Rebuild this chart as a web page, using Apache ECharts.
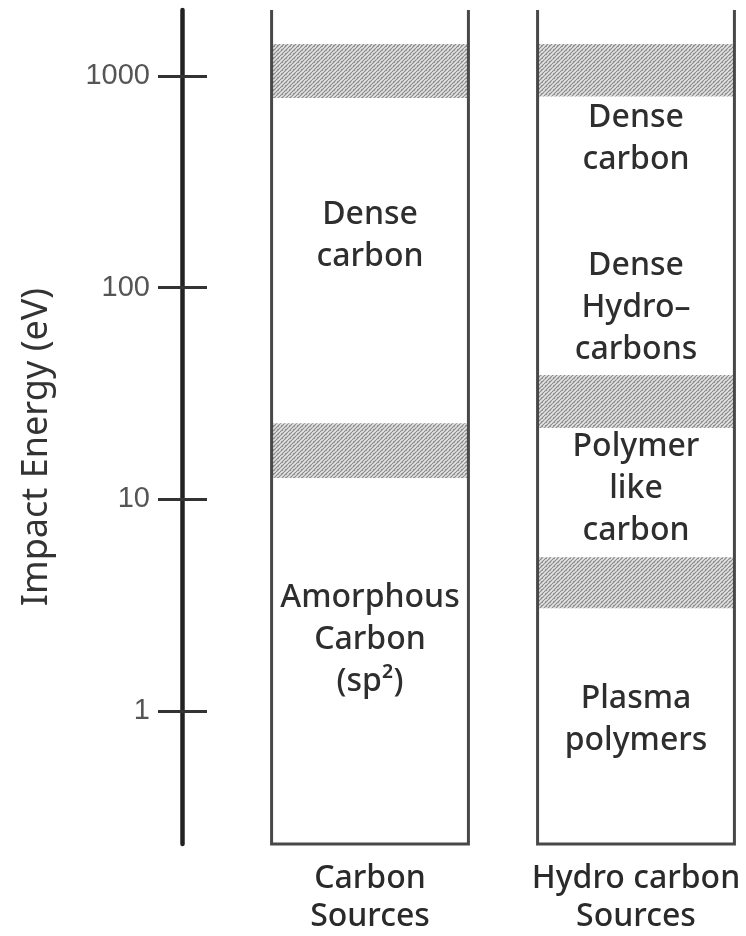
<!DOCTYPE html>
<html>
<head>
<meta charset="utf-8">
<script src="https://cdn.jsdelivr.net/npm/echarts@6/dist/echarts.min.js"></script>
<style>html,body{margin:0;padding:0;background:#fff;}#chart{width:746px;height:936px;}</style>
</head>
<body>
<div id="chart"></div>
<script>
// ---- data ----
const categories = ['Carbon\nSources', 'Hydro carbon\nSources'];
const tickValues = [1, 10, 100, 1000];
const axisMin = 0.235;
const axisMax = 2053;
// hatched transition bands [low, high] in eV
const carbonBands = [[788, 1419], [12.6, 22.9]];
const hydroBands = [[800, 1419], [21.7, 38.7], [3.06, 5.33]];
// region names and the energy (eV) where each name sits
const carbonRegions = ['Dense\ncarbon', 'Amorphous\nCarbon\n(sp²)'];
const carbonRegionAt = [175, 2.16];
const hydroRegions = ['Dense\ncarbon', 'Dense\nHydro–\ncarbons', 'Polymer\nlike\ncarbon', 'Plasma\npolymers'];
const hydroRegionAt = [505, 80, 11.2, 0.906];

// ---- build ----
function makeHatch() {
  const c = document.createElement('canvas');
  c.width = 8; c.height = 8;
  const g = c.getContext('2d');
  g.fillStyle = '#e4e4e4'; g.fillRect(0, 0, 8, 8);
  g.strokeStyle = '#8a8a8a'; g.lineWidth = 1.2;
  for (let k = -8; k <= 16; k += 4) { g.beginPath(); g.moveTo(k, 8); g.lineTo(k + 8, 0); g.stroke(); }
  g.fillStyle = 'rgba(100,100,100,0.5)';
  g.fillRect(1, 1, 1, 1); g.fillRect(5, 5, 1, 1); g.fillRect(6, 2, 1, 1); g.fillRect(2, 6, 1, 1);
  return c;
}
const hatch = makeHatch();
const COL_WIDTH = 0.74; // column width in x-axis units (column spacing = 1)

const frameData = categories.map((c, i) => [i, axisMin, axisMax]);
const bandData = [];
carbonBands.forEach(b => bandData.push([0, b[0], b[1]]));
hydroBands.forEach(b => bandData.push([1, b[0], b[1]]));
const labelData = [];
carbonRegions.forEach((t, i) => labelData.push({ value: [0, carbonRegionAt[i]], name: t }));
hydroRegions.forEach((t, i) => labelData.push({ value: [1, hydroRegionAt[i]], name: t }));

const chart = echarts.init(document.getElementById('chart'), null, { renderer: 'canvas' });
const option = {
  backgroundColor: '#fff',
  animation: false,
  grid: { left: 182, top: 10, right: 6, height: 834, containLabel: false },
  xAxis: {
    type: 'value', min: -0.7068, max: 1.391,
    axisLine: { show: false, onZero: false }, axisTick: { show: false }, splitLine: { show: false },
    axisLabel: { customValues: [0, 1], formatter: v => categories[Math.round(v)],
      fontSize: 32, lineHeight: 38, color: '#2a2a2a', margin: 16, fontFamily: 'Noto Sans', fontWeight: 500 }
  },
  yAxis: [{
    type: 'log', min: axisMin, max: axisMax, position: 'left',
    name: 'Impact Energy (eV)', nameLocation: 'middle', nameGap: 127, nameRotate: 90,
    nameTextStyle: { fontSize: 36, color: '#333', fontFamily: 'Noto Sans', padding: [0, 40, 0, 0] },
    axisLine: { show: true, onZero: false, lineStyle: { color: '#222', width: 4.5 } },
    axisTick: { show: true, length: 24, lineStyle: { color: '#333', width: 3 }, customValues: tickValues },
    axisLabel: { fontSize: 29, color: '#555', margin: 32, fontFamily: 'Liberation Sans', customValues: tickValues,
      formatter: v => String(Math.round(v)) },
    splitLine: { show: false }
  }, {
    type: 'log', min: axisMin, max: axisMax, position: 'left',
    axisLine: { show: false, onZero: false },
    axisTick: { show: true, inside: true, length: 25, lineStyle: { color: '#333', width: 3 }, customValues: tickValues },
    axisLabel: { show: false },
    splitLine: { show: false }
  }],
  series: [{
    type: 'custom', name: 'bands', data: bandData,
    renderItem: function (params, api) {
      const hw = api.size([COL_WIDTH, 0])[0] / 2;
      const top = api.coord([api.value(0), api.value(2)]);
      const bot = api.coord([api.value(0), api.value(1)]);
      return { type: 'rect', shape: { x: top[0] - hw, y: top[1], width: hw * 2, height: bot[1] - top[1] },
        style: { fill: { image: hatch, repeat: 'repeat' } } };
    }
  }, {
    type: 'custom', name: 'frames', data: frameData,
    renderItem: function (params, api) {
      const hw = api.size([COL_WIDTH, 0])[0] / 2;
      const top = api.coord([api.value(0), api.value(2)]);
      const bot = api.coord([api.value(0), api.value(1)]);
      return { type: 'polyline', shape: { points: [[top[0] - hw, top[1]], [bot[0] - hw, bot[1]], [bot[0] + hw, bot[1]], [top[0] + hw, top[1]]] },
        style: { stroke: '#484848', lineWidth: 3, fill: null } };
    }
  }, {
    type: 'custom', name: 'labels', data: labelData,
    renderItem: function (params, api) {
      const p = api.coord([api.value(0), api.value(1)]);
      return { type: 'text', x: p[0], y: p[1],
        style: { text: labelData[params.dataIndex].name, fill: '#2e2e2e', font: '500 32px "Noto Sans"',
          align: 'center', verticalAlign: 'middle', lineHeight: 42 } };
    }
  }]
};
chart.setOption(option);
</script>
</body>
</html>
